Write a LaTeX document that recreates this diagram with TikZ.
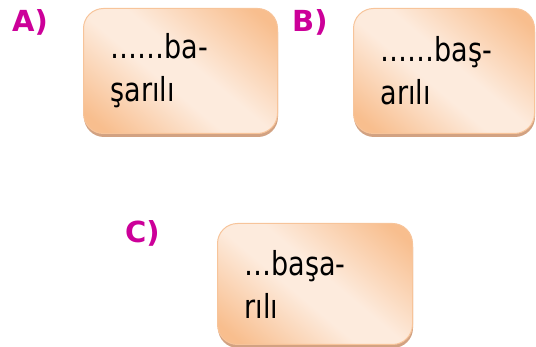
\documentclass[tikz,border=0pt]{standalone}
\usepackage{fontspec}
\setmainfont{DejaVu Sans Condensed}[FakeStretch=0.91]
\newfontfamily\labelfont{DejaVu Sans}
\usetikzlibrary{shadows}
\usepackage{xcolor}
\definecolor{boxorange}{HTML}{F8BE8E}
\definecolor{boxlight}{HTML}{FDEBDD}
\definecolor{boxline}{HTML}{F7C49A}
\definecolor{boxshadow}{HTML}{D2A282}
\definecolor{labelmagenta}{HTML}{CC0099}
\pgfdeclareverticalshading{answerglow}{100bp}{color(0bp)=(boxorange); color(20bp)=(boxorange); color(44bp)=(boxlight); color(54bp)=(boxlight); color(80bp)=(boxorange); color(100bp)=(boxorange)}

\begin{document}
\begin{tikzpicture}[x=1pt, y=-1pt,
    answerbox/.style={
        rectangle,
        rounded corners=20pt,
        draw=boxline,
        line width=1pt,
        shading=answerglow,
        shading angle=-40,
        drop shadow={shadow xshift=0.5pt, shadow yshift=-3.5pt, fill=boxshadow, opacity=1},
        anchor=north west,
        inner xsep=27pt,
        inner ysep=0pt,
        minimum height=125pt,
        align=left,
        font=\fontsize{33}{43}\selectfont
    },
    answerlabel/.style={
        anchor=base west,
        inner sep=0pt,
        text=labelmagenta,
        font=\labelfont\bfseries\fontsize{29}{32}\selectfont
    }]
    \useasboundingbox (0,0) rectangle (536,347);

    \node (label_a) [answerlabel] at (12, 32) {A)};
    \node (box_a) [answerbox, text width=140pt] at (83, 8)
    {
        ……ba-\\
        şarılı
    };

    \node (label_b) [answerlabel] at (292, 32) {B)};
    \node (box_b) [answerbox, text width=127pt] at (353, 8)
    {
        ……baş-\\
        arılı
    };

    \node (label_c) [answerlabel] at (125, 243) {C)};
    \node (box_c) [answerbox, text width=141pt, minimum height=121pt] at (217, 223)
    {
        …başa-\\
        rılı
    };

\end{tikzpicture}
\end{document}
